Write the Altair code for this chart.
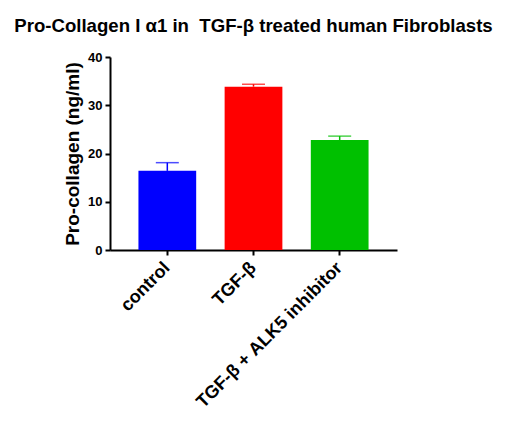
import altair as alt
import pandas as pd

categories = ["control", "TGF-β", "TGF-β + ALK5 inhibitor"]
means = [16.4, 33.85, 22.8]
sems = [1.7, 0.5, 0.8]
colors = ["#0000FF", "#FF0000", "#00C000"]

df = pd.DataFrame({
    "cat": categories,
    "mean": means,
    "upper": [m + s for m, s in zip(means, sems)],
    "color": colors,
})

x = alt.X("cat:N", sort=categories, title=None,
          scale=alt.Scale(paddingInner=0.33, paddingOuter=0.33),
          axis=alt.Axis(labelAngle=-45, labelFontSize=18, labelFontWeight="bold",
                        labelColor="black", labelFont="Liberation Sans",
                        labelAlign="right", labelBaseline="middle",
                        tickColor="black", tickSize=5, tickWidth=2,
                        domainColor="black", domainWidth=2, labelPadding=10,
                        labelLimit=0))
y = alt.Y("mean:Q", title="Pro-collagen (ng/ml)",
          scale=alt.Scale(domain=[0, 40], nice=False),
          axis=alt.Axis(values=[0, 10, 20, 30, 40], grid=False,
                        labelFontSize=13, labelFontWeight="bold", labelColor="black",
                        labelFont="Liberation Sans",
                        tickColor="black", tickSize=5, tickWidth=2,
                        domainColor="black", domainWidth=2, labelPadding=3,
                        titleFontSize=19, titleFontWeight="bold", titleColor="black",
                        titleFont="Liberation Sans", titlePadding=5))

color = alt.Color("color:N", scale=None)

bars = alt.Chart(df).mark_bar().encode(x=x, y=y, color=color)
stems = alt.Chart(df).mark_rule(strokeWidth=1.5).encode(
    x=alt.X("cat:N", sort=categories), y="mean:Q", y2="upper:Q", color=color)
caps = alt.Chart(df).mark_tick(orient="horizontal", size=23, thickness=1.5).encode(
    x=alt.X("cat:N", sort=categories), y="upper:Q", color=color)

chart = alt.layer(bars, stems, caps).properties(
    width=287, height=193,
    title=alt.TitleParams("Pro-Collagen I α1 in \u00a0TGF-β treated human Fibroblasts",
                          fontSize=18.6, fontWeight="bold", font="Liberation Sans",
                          color="black", anchor="middle", offset=15),
    padding={"left": 102, "top": 49, "right": 110, "bottom": 169},
    autosize=alt.AutoSizeParams(type="none"),
).configure(background="white").configure_view(stroke=None)

chart.save("out.html", embed_options={"renderer": "svg", "actions": False})
